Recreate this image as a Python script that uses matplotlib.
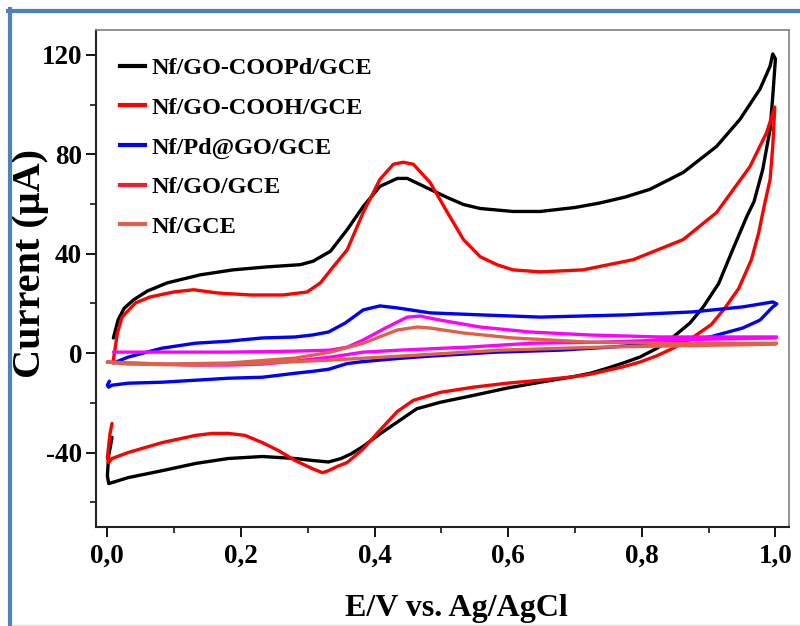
import numpy as np
import matplotlib
matplotlib.use("Agg")
import matplotlib.pyplot as plt
from matplotlib.lines import Line2D

# ---------------- data: cyclic voltammograms (E in V, I in uA) ----------------
labels = ["Nf/GO-COOPd/GCE", "Nf/GO-COOH/GCE", "Nf/Pd@GO/GCE", "Nf/GO/GCE", "Nf/GCE"]

e_coopd = [0.009, 0.016, 0.025, 0.039, 0.060, 0.090, 0.139, 0.188, 0.239, 0.289, 0.308, 0.334,
           0.359, 0.383, 0.408, 0.434, 0.449, 0.483, 0.509, 0.533, 0.558, 0.607, 0.648, 0.700,
           0.737, 0.775, 0.812, 0.862, 0.912, 0.947, 0.977, 0.992, 0.996, 1.000,
           0.996, 0.992, 0.981, 0.968, 0.957, 0.936, 0.915, 0.892, 0.872, 0.847, 0.823, 0.797,
           0.772, 0.748, 0.723, 0.697, 0.648, 0.598, 0.548, 0.498, 0.463, 0.438, 0.408, 0.383,
           0.365, 0.350, 0.331, 0.307, 0.281, 0.232, 0.181, 0.132, 0.082, 0.031, 0.007, 0.002,
           0.000, 0.002, 0.007]
i_coopd = [6.1, 13.3, 18.0, 21.4, 25.0, 28.3, 31.5, 33.5, 34.7, 35.6, 37.0, 41.0,
           49.7, 59.0, 67.1, 70.3, 70.3, 65.9, 62.6, 59.8, 58.2, 57.0, 57.0, 58.6,
           60.4, 62.8, 65.9, 72.7, 83.2, 94.1, 106.3, 115.5, 120.4, 118.4,
           103.4, 90.1, 73.9, 61.0, 54.9, 41.6, 28.0, 18.6, 12.1, 6.5, 2.0, -1.6,
           -4.0, -6.1, -8.1, -9.5, -11.7, -14.1, -17.0, -19.8, -22.4, -27.0, -32.5, -37.5,
           -40.5, -42.4, -43.8, -43.2, -42.4, -41.6, -42.4, -44.4, -47.3, -50.1, -52.1, -52.5,
           -49.3, -41.2, -33.9]

e_cooh = [0.009, 0.015, 0.022, 0.042, 0.064, 0.099, 0.129, 0.165, 0.214, 0.263, 0.299, 0.319,
          0.338, 0.359, 0.383, 0.408, 0.428, 0.443, 0.458, 0.483, 0.509, 0.533, 0.558, 0.583,
          0.607, 0.648, 0.712, 0.787, 0.862, 0.912, 0.962, 0.987, 0.999,
          0.996, 0.992, 0.983, 0.975, 0.964, 0.945, 0.924, 0.904, 0.875, 0.847, 0.823, 0.797,
          0.772, 0.723, 0.697, 0.648, 0.598, 0.548, 0.498, 0.458, 0.434, 0.408, 0.383, 0.359,
          0.345, 0.331, 0.322, 0.307, 0.281, 0.256, 0.232, 0.206, 0.181, 0.157, 0.132, 0.082,
          0.031, 0.007, 0.002, 0.000, 0.004, 0.007]
i_cooh = [-2.8, 8.1, 14.5, 20.2, 22.6, 24.6, 25.5, 24.2, 23.4, 23.4, 24.6, 28.3,
          34.7, 41.6, 56.6, 69.9, 76.0, 76.8, 76.0, 68.7, 56.6, 45.7, 38.8, 35.6,
          33.5, 32.7, 33.5, 37.6, 45.7, 56.6, 75.1, 88.9, 99.0,
          83.2, 69.9, 59.0, 48.5, 37.6, 26.0, 18.0, 11.5, 6.1, 2.0, -1.0, -3.6,
          -5.5, -8.5, -9.5, -10.9, -12.1, -13.7, -15.8, -19.0, -23.5, -31.0, -38.5, -44.0,
          -45.5, -47.3, -48.1, -46.5, -43.2, -39.2, -36.0, -33.1, -32.3, -32.3, -33.1, -36.0,
          -40.0, -42.4, -44.0, -42.0, -32.3, -28.3]

e_pdgo = [0.009, 0.031, 0.082, 0.132, 0.181, 0.232, 0.281, 0.307, 0.331, 0.356, 0.383, 0.408,
          0.434, 0.483, 0.558, 0.648, 0.778, 0.877, 0.951, 0.996, 1.002,
          0.996, 0.977, 0.951, 0.902, 0.827, 0.752, 0.678, 0.583, 0.483, 0.433, 0.383, 0.359,
          0.331, 0.308, 0.281, 0.232, 0.181, 0.132, 0.082, 0.031, 0.007, 0.002, 0.000, 0.003]
i_pdgo = [-4.0, -1.6, 2.0, 4.0, 4.8, 6.1, 6.5, 7.3, 8.5, 12.1, 17.4, 19.0,
          18.2, 16.2, 15.4, 14.5, 15.4, 16.6, 18.6, 20.6, 19.8,
          18.6, 13.3, 10.1, 6.5, 4.0, 2.4, 1.2, 0.4, -1.2, -2.2, -3.4, -4.2,
          -6.5, -7.3, -8.1, -9.7, -10.1, -10.9, -11.7, -12.1, -12.9, -13.7, -12.9, -11.3]

e_go = [0.009, 0.082, 0.181, 0.281, 0.334, 0.359, 0.383, 0.419, 0.449, 0.468, 0.498, 0.558,
        0.633, 0.722, 0.827, 1.002,
        1.000, 0.838, 0.737, 0.637, 0.539, 0.438, 0.383, 0.334, 0.281, 0.232, 0.181, 0.132,
        0.082, 0.031, 0.000]
i_go = [0.4, 0.4, 0.4, 0.8, 1.2, 2.4, 5.3, 10.5, 14.5, 14.9, 13.3, 10.5,
        8.5, 7.3, 6.5, 6.5,
        6.1, 5.3, 4.4, 4.0, 2.4, 1.2, 0.4, -1.6, -3.2, -4.4, -4.8, -4.8,
        -4.4, -4.0, -3.6]

e_gce = [0.000, 0.082, 0.181, 0.281, 0.334, 0.383, 0.434, 0.464, 0.483, 0.533, 0.607, 0.722,
         0.838, 1.002,
         1.000, 0.737, 0.588, 0.438, 0.334, 0.232, 0.132, 0.031, 0.000]
i_gce = [-3.6, -4.4, -4.0, -2.0, 0.4, 4.0, 9.3, 10.5, 10.1, 8.1, 6.1, 4.4,
         4.0, 4.0,
         3.6, 2.4, 1.2, -1.2, -2.8, -4.0, -4.8, -4.4, -3.6]

line_colors = ["#000000", "#ff0000", "#0000ff", "#ff00ff", "#e0604a"]
legend_colors = ["#000000", "#ff0000", "#0000ff", "#ee2030", "#e0604a"]

x_major = [0.0, 0.2, 0.4, 0.6, 0.8, 1.0]
x_labels = ["0,0", "0,2", "0,4", "0,6", "0,8", "1,0"]
x_minor = [0.1, 0.3, 0.5, 0.7, 0.9]
y_major = [-40, 0, 40, 80, 120]
y_labels = ["-40", "0", "40", "80", "120"]
y_minor = [-60, -20, 20, 60, 100]

# ---------------- figure ----------------
plt.rcParams["font.family"] = ["Liberation Serif", "DejaVu Serif"]
plt.rcParams["font.weight"] = "bold"

fig = plt.figure(figsize=(8, 6.26), dpi=100)
ax = fig.add_axes([0.12, 0.158, 0.866, 0.794])

curves = [(e_coopd, i_coopd), (e_cooh, i_cooh), (e_pdgo, i_pdgo), (e_go, i_go), (e_gce, i_gce)]
for (e, i), c in zip(curves, line_colors):
    ax.plot(e, i, color=c, lw=2.4, solid_joinstyle="round", solid_capstyle="round")

ax.set_xlim(-0.017, 1.02)
ax.set_ylim(-70, 130)

ax.set_xticks(x_major)
ax.set_xticklabels(x_labels)
ax.set_xticks(x_minor, minor=True)
ax.set_yticks(y_major)
ax.set_yticklabels(y_labels)
ax.set_yticks(y_minor, minor=True)
ax.tick_params(which="major", direction="out", length=7, width=1.3, labelsize=19.5, pad=5)
ax.tick_params(which="minor", direction="out", length=4, width=1.1)
ax.tick_params(axis="y", which="major", pad=3)

for side in ["left", "bottom"]:
    ax.spines[side].set_linewidth(1.5)
    ax.spines[side].set_color("#222222")
for side in ["top", "right"]:
    ax.spines[side].set_linewidth(1.2)
    ax.spines[side].set_color("#808080")

ax.set_xlabel("E/V vs. Ag/AgCl", fontsize=23, fontweight="bold", va="top")
ax.xaxis.set_label_coords(0.52, -0.134)
ax.set_ylabel("Current (\u03bcA)", fontsize=29, fontweight="bold", va="center")
ax.yaxis.set_label_coords(-0.094, 0.53)

handles = [Line2D([], [], color=c, lw=3) for c in legend_colors]
ax.legend(handles, labels, loc="upper left", bbox_to_anchor=(0.035, 0.945),
          frameon=False, borderpad=0, borderaxespad=0, handlelength=1.0,
          handletextpad=0.3, labelspacing=0.72,
          prop={"family": "Liberation Serif", "weight": "bold", "size": 17.5})

# blue page frame on the left and top edges, faint rule at the bottom
frame_c = "#4f81bd"
fig.add_artist(Line2D([10 / 800, 10 / 800], [0, 1 - 9 / 626], transform=fig.transFigure,
                      color=frame_c, lw=3))
fig.add_artist(Line2D([8 / 800, 1], [1 - 11 / 626, 1 - 11 / 626], transform=fig.transFigure,
                      color=frame_c, lw=3))
fig.add_artist(Line2D([12 / 800, 1], [1.5 / 626, 1.5 / 626], transform=fig.transFigure,
                      color="#dddddd", lw=1))

fig.savefig("out.png", dpi=100)
